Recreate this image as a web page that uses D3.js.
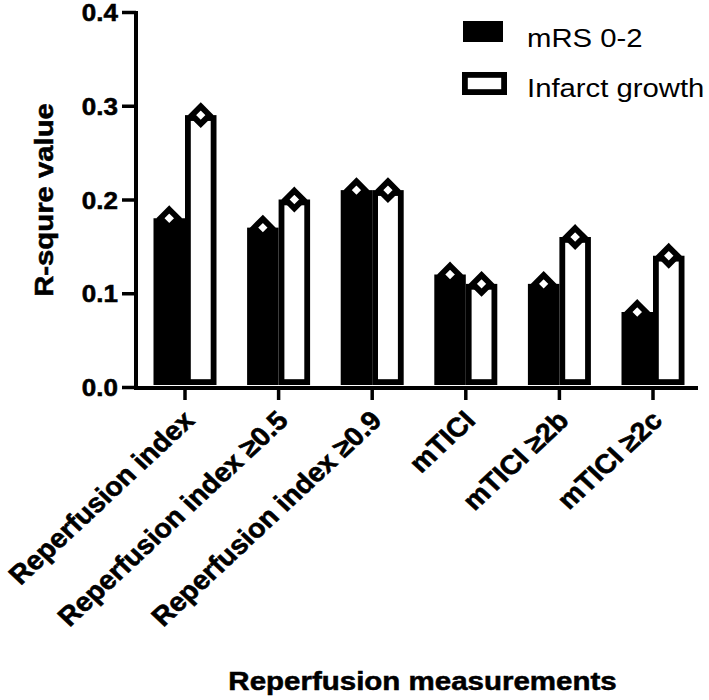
<!DOCTYPE html>
<html>
<head>
<meta charset="utf-8">
<script src="https://cdn.jsdelivr.net/npm/d3@7"></script>
<style>
  html, body { margin: 0; padding: 0; background: #fff; }
  svg { display: block; }
  text { font-family: "Liberation Sans", Arial, Helvetica, sans-serif; fill: #000; }
  text.b { stroke: #000; stroke-width: 0.6; }
</style>
</head>
<body>
<svg id="chart" width="709" height="700"></svg>
<script>
const categories = ["Reperfusion index", "Reperfusion index \u22650.5", "Reperfusion index \u22650.9", "mTICI", "mTICI \u22652b", "mTICI \u22652c"];
const seriesNames = ["mRS 0-2", "Infarct growth"];
const mrsValues = [0.18, 0.17, 0.21, 0.12, 0.11, 0.08];
const infarctValues = [0.29, 0.20, 0.21, 0.11, 0.16, 0.14];
const yTicks = [0.0, 0.1, 0.2, 0.3, 0.4];
const yTitle = "R-squre value";
const xTitle = "Reperfusion measurements";

const seriesValues = [mrsValues, infarctValues];
const fills = ["#000", "#fff"];
const SQ = 0.89; // vertical squash of glyphs

const svg = d3.select("#chart");

const y = d3.scaleLinear().domain([0, 0.4]).range([387, 12]);
const x0 = d3.scaleBand().domain(categories).range([138.2, 699.8])
  .paddingInner(0.327).paddingOuter(0.1635);
const x1 = d3.scaleBand().domain(seriesNames).range([0, x0.bandwidth()]).padding(0);

const SW = 5.8;

// bars
const groups = svg.append("g").selectAll("g.grp")
  .data(categories)
  .join("g")
  .attr("class", "grp")
  .attr("transform", d => `translate(${x0(d)},0)`);

groups.selectAll("rect")
  .data((d, i) => seriesNames.map((s, j) => ({ s, j, v: seriesValues[j][i] })))
  .join("rect")
  .attr("x", d => x1(d.s) + SW / 2)
  .attr("width", x1.bandwidth() - SW)
  .attr("y", d => y(d.v) + SW / 2)
  .attr("height", d => y(0) - 2 - y(d.v) - SW)
  .attr("fill", d => fills[d.j])
  .attr("stroke", "#000")
  .attr("stroke-width", SW);

// diamond markers
const dh = 8.8;
groups.selectAll("path.mk")
  .data((d, i) => seriesNames.map((s, j) => ({ s, j, v: seriesValues[j][i] })))
  .join("path")
  .attr("class", "mk")
  .attr("d", d => {
    const cx = x1(d.s) + x1.bandwidth() / 2, cy = y(d.v);
    return `M${cx},${cy - dh}L${cx + dh},${cy}L${cx},${cy + dh}L${cx - dh},${cy}Z`;
  })
  .attr("fill", "#fff")
  .attr("stroke", "#000")
  .attr("stroke-width", SW)
  .attr("stroke-linejoin", "miter");

// y axis
const yAxis = svg.append("g")
  .attr("transform", "translate(136,0)")
  .call(d3.axisLeft(y).tickValues(yTicks).tickFormat(d3.format(".1f")).tickSize(14).tickSizeOuter(0));
yAxis.select(".domain").remove();
yAxis.selectAll(".tick line").attr("stroke", "#000").attr("stroke-width", 3.5);
yAxis.selectAll(".tick text")
  .attr("class", "b")
  .attr("x", null).attr("dy", null)
  .attr("transform", `translate(-18,8.5) scale(1,0.93)`)
  .attr("font-size", 26).attr("font-weight", "bold")
  .attr("text-anchor", "end");
svg.append("line")
  .attr("x1", 136).attr("x2", 136)
  .attr("y1", y(0.4) - 1).attr("y2", y(0) + 3)
  .attr("stroke", "#000").attr("stroke-width", 4);

// x axis
const xAxis = svg.append("g")
  .attr("transform", "translate(0,388)")
  .call(d3.axisBottom(x0).tickSize(12).tickSizeOuter(0));
xAxis.select(".domain").remove();
xAxis.selectAll(".tick line").attr("stroke", "#000").attr("stroke-width", 3.5);
xAxis.selectAll(".tick text")
  .attr("class", "b")
  .attr("x", null).attr("y", null).attr("dy", null)
  .attr("transform", `translate(11,34) scale(1.07,1) rotate(-45)`)
  .attr("text-anchor", "end")
  .attr("font-size", 26.6).attr("font-weight", "bold");
svg.append("line")
  .attr("x1", 134).attr("x2", 698)
  .attr("y1", 388).attr("y2", 388)
  .attr("stroke", "#000").attr("stroke-width", 4);

// axis titles
svg.append("text")
  .attr("class", "b")
  .attr("transform", `translate(53,200) rotate(-90) scale(1,${SQ})`)
  .attr("text-anchor", "middle")
  .attr("font-size", 29.3).attr("font-weight", "bold")
  .text(yTitle);
svg.append("text")
  .attr("class", "b")
  .attr("transform", `translate(422.5,690) scale(1,${SQ})`)
  .attr("text-anchor", "middle")
  .attr("font-size", 29.5).attr("font-weight", "bold")
  .text(xTitle);

// legend
const legend = svg.append("g");
const legItems = legend.selectAll("g")
  .data(seriesNames)
  .join("g")
  .attr("transform", (d, i) => `translate(0,${i * 50})`);
legItems.append("rect")
  .attr("x", (d, i) => i === 0 ? 463 : 462 + SW / 2)
  .attr("y", (d, i) => i === 0 ? 21 : 22 + SW / 2)
  .attr("width", (d, i) => i === 0 ? 40 : 45 - SW)
  .attr("height", (d, i) => i === 0 ? 21 : 23 - SW)
  .attr("fill", (d, i) => fills[i])
  .attr("stroke", (d, i) => i === 0 ? "none" : "#000")
  .attr("stroke-width", SW);
legItems.append("text")
  .attr("transform", `translate(527,47) scale(1,${SQ})`)
  .attr("font-size", 29.3)
  .text(d => d);
</script>
</body>
</html>
